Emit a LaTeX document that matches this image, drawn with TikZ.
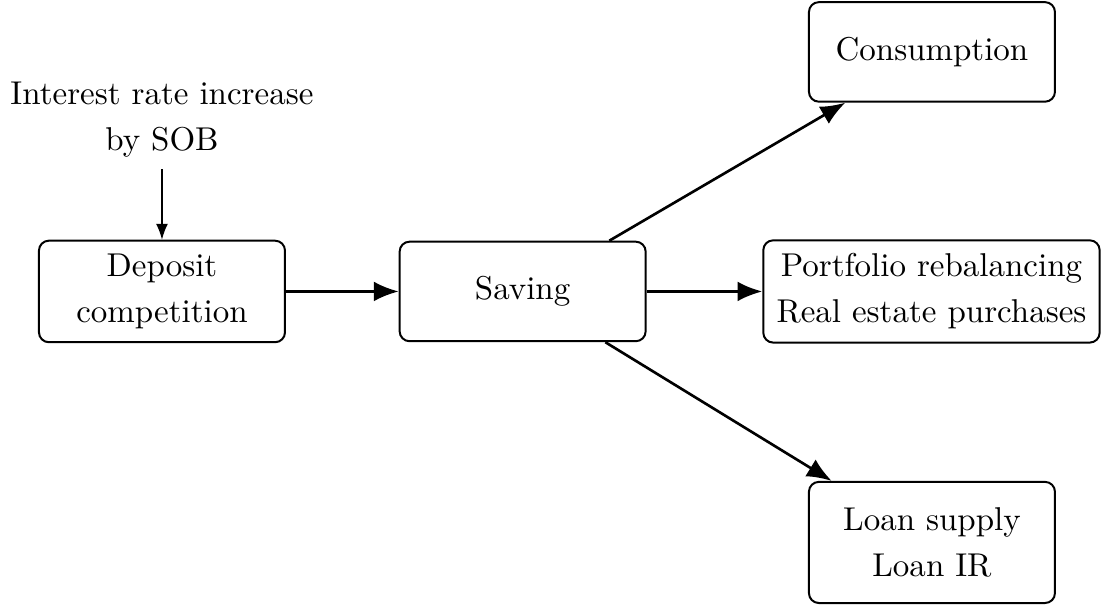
\documentclass[tikz,border=0pt]{standalone}
\usepackage{tikz}
\usetikzlibrary{positioning, arrows.meta}

\begin{document}
\begin{tikzpicture}[
  box/.style={rectangle, draw, semithick, rounded corners=3pt,
              inner sep=4pt, align=center,
              minimum width=2.62cm, minimum height=1.06cm},
  flow/.style={-{Latex[length=7.5pt, width=6pt]}, thick},
]
\useasboundingbox (-1.725,-3.36) rectangle (10.043,3.104);

% ---- main chain ----
\node[box] (deposit) at (0,0) {Deposit\\[2pt] competition};
\node[box, right=1.2cm of deposit] (saving) {Saving};
\node[box] (portfolio) at (8.195,0) {Portfolio rebalancing\\[2pt] Real estate purchases};

% ---- outcomes ----
\node[box] (cons) at (8.2,2.551) {Consumption};
\node[box, minimum height=1.29cm] (loan) at (8.2,-2.673) {Loan supply\\[2pt] Loan IR};

% ---- shock ----
\node[align=center, above=0.75cm of deposit] (rate) {Interest rate increase\\[2pt] by SOB};

\draw[-{Latex}] (rate) -- (deposit);
\draw[flow] (deposit) -- (saving);
\draw[flow] (saving) -- (portfolio);
\draw[flow] (saving) -- (cons);
\draw[flow] (saving) -- (loan);

\end{tikzpicture}
\end{document}
